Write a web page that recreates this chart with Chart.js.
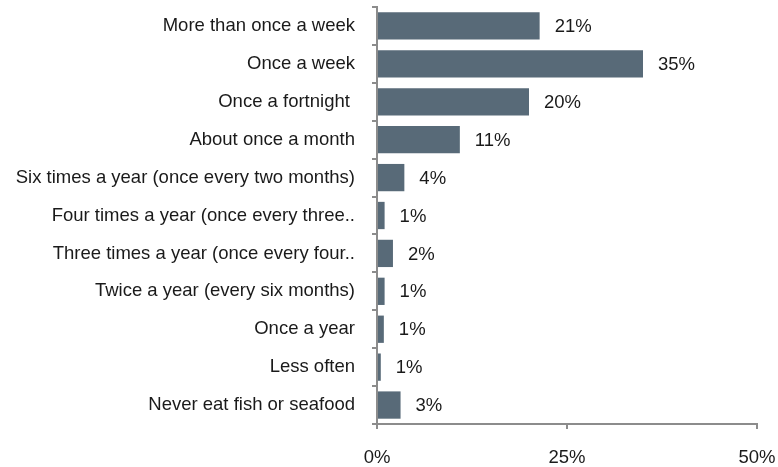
<!DOCTYPE html>
<html>
<head>
<meta charset="utf-8">
<script src="https://cdn.jsdelivr.net/npm/chart.js@4/dist/chart.umd.min.js"></script>
<style>
html,body{margin:0;padding:0;background:#fff;}
#wrap{width:778px;height:467px;position:relative;}
</style>
</head>
<body>
<div id="wrap"><canvas id="c" width="778" height="467"></canvas></div>
<script>
const categories = [
  "More than once a week",
  "Once a week",
  "Once a fortnight ",
  "About once a month",
  "Six times a year (once every two months)",
  "Four times a year (once every three..",
  "Three times a year (once every four..",
  "Twice a year (every six months)",
  "Once a year",
  "Less often",
  "Never eat fish or seafood"
];
const values = [21.4, 35.0, 20.0, 10.9, 3.6, 1.0, 2.1, 1.0, 0.9, 0.5, 3.1];
const valueLabels = ["21%", "35%", "20%", "11%", "4%", "1%", "2%", "1%", "1%", "1%", "3%"];
const xTicks = [0, 25, 50];

const FONT = "'Liberation Sans', Arial, sans-serif";
const AXIS = "#8c8c8c";

const labelPlugin = {
  id: 'valueLabels',
  afterDatasetsDraw(chart) {
    const ctx = chart.ctx;
    const meta = chart.getDatasetMeta(0);
    ctx.save();
    ctx.font = "18.5px " + FONT;
    ctx.fillStyle = "#1a1a1a";
    ctx.textAlign = "left";
    ctx.textBaseline = "middle";
    meta.data.forEach((bar, i) => {
      ctx.fillText(valueLabels[i], bar.x + 15, bar.y + 1);
    });
    ctx.restore();
  }
};

new Chart(document.getElementById('c'), {
  type: 'bar',
  data: {
    labels: categories,
    datasets: [{
      data: values,
      backgroundColor: "#586a78",
      borderWidth: 0,
      categoryPercentage: 1,
      barPercentage: 0.72
    }]
  },
  options: {
    indexAxis: 'y',
    responsive: false,
    animation: false,
    layout: { padding: { top: 7, right: 21, bottom: 0, left: 0 } },
    plugins: { legend: { display: false }, tooltip: { enabled: false } },
    scales: {
      x: {
        min: 0, max: 50,
        afterFit(s) { s.height = 43; s.paddingLeft = 0; s.paddingRight = 0; },
        afterBuildTicks(s) { s.ticks = xTicks.map(v => ({ value: v })); },
        border: { display: true, color: AXIS, width: 2 },
        grid: { drawOnChartArea: false, drawTicks: true, tickLength: 5, tickColor: AXIS, lineWidth: 2 },
        ticks: {
          padding: 18,
          color: "#1a1a1a",
          font: { family: FONT, size: 18.5 },
          callback: v => v + "%"
        }
      },
      y: {
        afterFit(s) { s.width = 377; s.paddingTop = 0; s.paddingBottom = 0; },
        border: { display: true, color: AXIS, width: 2 },
        grid: { offset: true, drawOnChartArea: false, drawTicks: true, tickLength: 5, tickColor: AXIS, lineWidth: 2 },
        ticks: {
          padding: 17,
          color: "#1a1a1a",
          font: { family: FONT, size: 18.5 },
          autoSkip: false
        }
      }
    }
  },
  plugins: [labelPlugin]
});
</script>
</body>
</html>
